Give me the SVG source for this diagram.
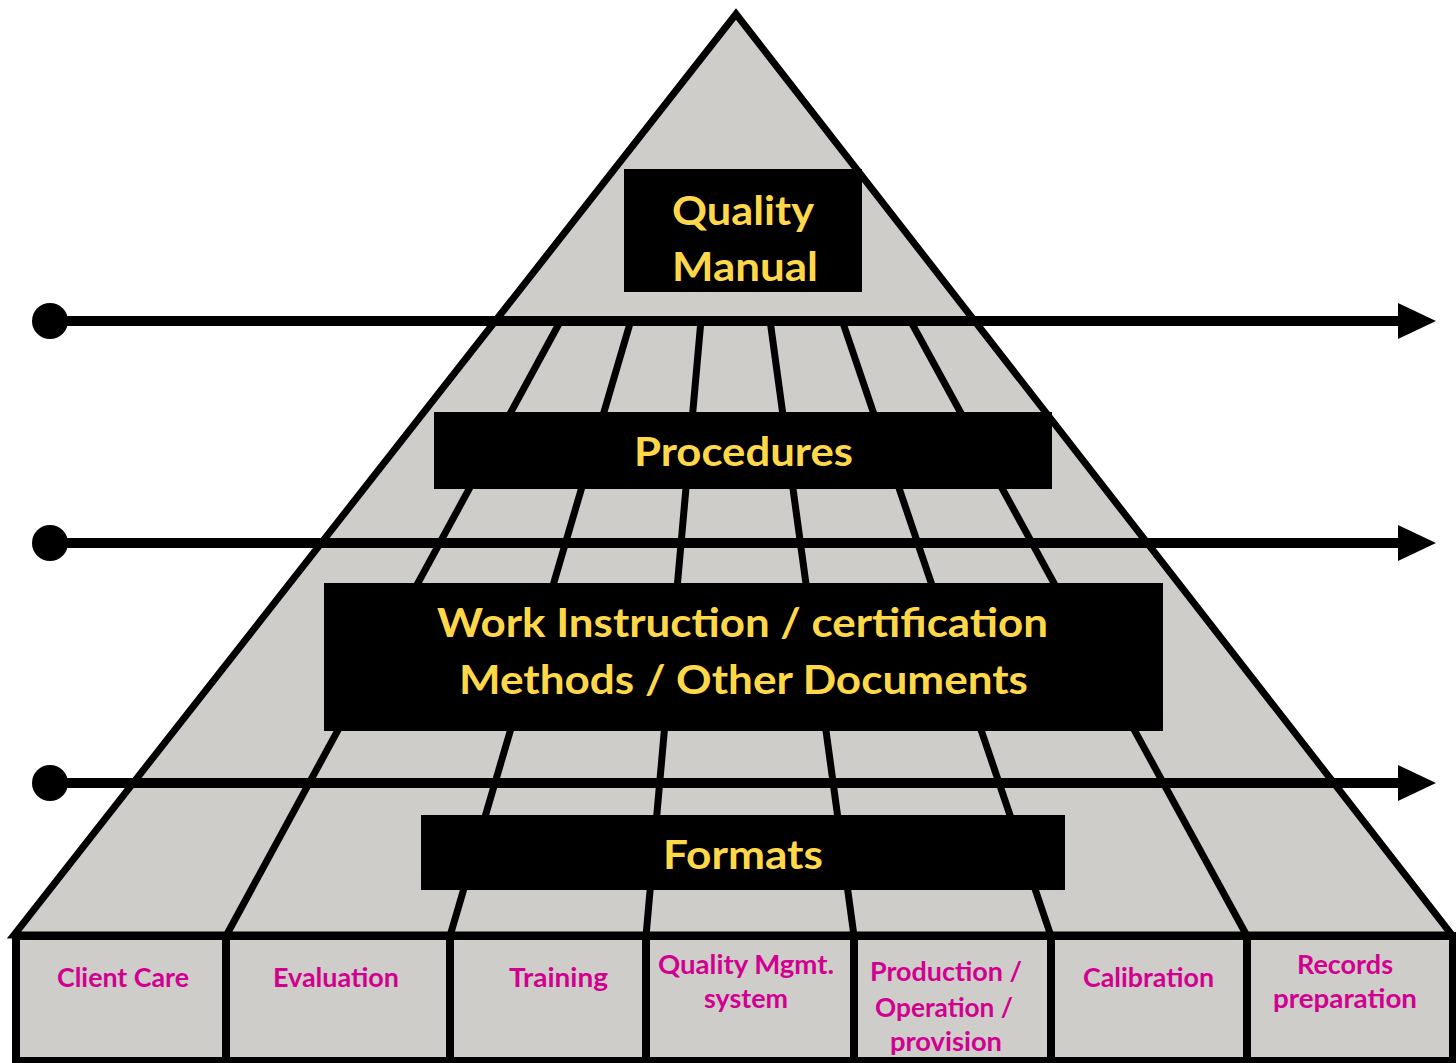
<svg xmlns="http://www.w3.org/2000/svg" width="1456" height="1063" viewBox="0 0 1456 1063">
  <style>
    .tri { fill: #CECDC9; stroke: #000; stroke-width: 7; stroke-linejoin: miter; }
    .div { stroke: #000; stroke-width: 7; fill: none; }
    .box { fill: #000; }
    .big { font-family: Lato, "Open Sans", "Liberation Sans", sans-serif; font-weight: 700; font-size: 40px; fill: #FFD84A; text-anchor: middle; }
    .cell { fill: #CECDC9; stroke: #000; stroke-width: 8; }
    .lbl { font-family: Lato, "Open Sans", "Liberation Sans", sans-serif; font-weight: 700; font-size: 26px; fill: #D10090; text-anchor: middle; }
    .arr { stroke: #000; stroke-width: 10; fill: none; marker-start: url(#dot); marker-end: url(#head); }
  </style>
  <defs>
    <marker id="dot" markerUnits="userSpaceOnUse" markerWidth="40" markerHeight="40" refX="20" refY="20" viewBox="0 0 40 40" orient="auto">
      <circle cx="20" cy="20" r="18" fill="#000"/>
    </marker>
    <marker id="head" markerUnits="userSpaceOnUse" markerWidth="40" markerHeight="40" refX="2" refY="20" viewBox="0 0 40 40" orient="auto">
      <path d="M0,2 L38,20 L0,38 Z" fill="#000"/>
    </marker>
  </defs>
  <rect width="1456" height="1063" fill="#fff"/>

  <g id="pyramid">
    <path class="tri" d="M736,14 L1452,935 L14,935 Z"/>
    <g id="pyramid-dividers">
      <line class="div" x1="561" y1="320" x2="226" y2="936"/>
      <line class="div" x1="631" y1="320" x2="450" y2="936"/>
      <line class="div" x1="701" y1="320" x2="646" y2="936"/>
      <line class="div" x1="770" y1="320" x2="854" y2="936"/>
      <line class="div" x1="842" y1="320" x2="1051" y2="936"/>
      <line class="div" x1="910" y1="320" x2="1247" y2="936"/>
    </g>
  </g>

  <g id="quality-manual">
    <rect class="box" x="624" y="169" width="238" height="123"/>
    <text class="big" x="743" y="225" textLength="142" lengthAdjust="spacingAndGlyphs">Quality</text>
    <text class="big" x="745" y="281" textLength="146" lengthAdjust="spacingAndGlyphs">Manual</text>
  </g>

  <g id="procedures">
    <rect class="box" x="434" y="412" width="618" height="77"/>
    <text class="big" x="743.5" y="466" textLength="219" lengthAdjust="spacingAndGlyphs">Procedures</text>
  </g>

  <g id="work-instruction">
    <rect class="box" x="324" y="583" width="839" height="148"/>
    <text class="big" x="742.5" y="637" textLength="611" lengthAdjust="spacingAndGlyphs">Work Instruction / certification</text>
    <text class="big" x="743.5" y="694" textLength="569" lengthAdjust="spacingAndGlyphs">Methods / Other Documents</text>
  </g>

  <g id="formats">
    <rect class="box" x="421" y="815" width="644" height="75"/>
    <text class="big" x="743" y="869" textLength="160" lengthAdjust="spacingAndGlyphs">Formats</text>
  </g>

  <g id="connectors">
    <line class="arr" x1="50" y1="321" x2="1400" y2="321"/>
    <line class="arr" x1="50" y1="543" x2="1400" y2="543"/>
    <line class="arr" x1="50" y1="783" x2="1400" y2="783"/>
  </g>

  <g id="base-row">
    <rect class="cell" x="16" y="936" width="1437" height="125"/>
    <line class="div" style="stroke-width:8" x1="226" y1="936" x2="226" y2="1063"/>
    <line class="div" style="stroke-width:8" x1="450" y1="936" x2="450" y2="1063"/>
    <line class="div" style="stroke-width:8" x1="646" y1="936" x2="646" y2="1063"/>
    <line class="div" style="stroke-width:8" x1="854" y1="936" x2="854" y2="1063"/>
    <line class="div" style="stroke-width:8" x1="1051" y1="936" x2="1051" y2="1063"/>
    <line class="div" style="stroke-width:8" x1="1247" y1="936" x2="1247" y2="1063"/>
  </g>

  <g id="cell-client-care">
    <text class="lbl" x="123" y="987" textLength="132" lengthAdjust="spacingAndGlyphs">Client Care</text>
  </g>
  <g id="cell-evaluation">
    <text class="lbl" x="336" y="987" textLength="126" lengthAdjust="spacingAndGlyphs">Evaluation</text>
  </g>
  <g id="cell-training">
    <text class="lbl" x="558.5" y="987" textLength="99" lengthAdjust="spacingAndGlyphs">Training</text>
  </g>
  <g id="cell-qms">
    <text class="lbl" x="746" y="974" textLength="176" lengthAdjust="spacingAndGlyphs">Quality Mgmt.</text>
    <text class="lbl" x="746" y="1008" textLength="84" lengthAdjust="spacingAndGlyphs">system</text>
  </g>
  <g id="cell-production">
    <text class="lbl" x="946" y="981" textLength="152" lengthAdjust="spacingAndGlyphs">Production /</text>
    <text class="lbl" x="944" y="1017" textLength="138" lengthAdjust="spacingAndGlyphs">Operation /</text>
    <text class="lbl" x="946" y="1051" textLength="112" lengthAdjust="spacingAndGlyphs">provision</text>
  </g>
  <g id="cell-calibration">
    <text class="lbl" x="1148.5" y="987" textLength="131" lengthAdjust="spacingAndGlyphs">Calibration</text>
  </g>
  <g id="cell-records">
    <text class="lbl" x="1345" y="974" textLength="96" lengthAdjust="spacingAndGlyphs">Records</text>
    <text class="lbl" x="1345" y="1008" textLength="144" lengthAdjust="spacingAndGlyphs">preparation</text>
  </g>
</svg>
